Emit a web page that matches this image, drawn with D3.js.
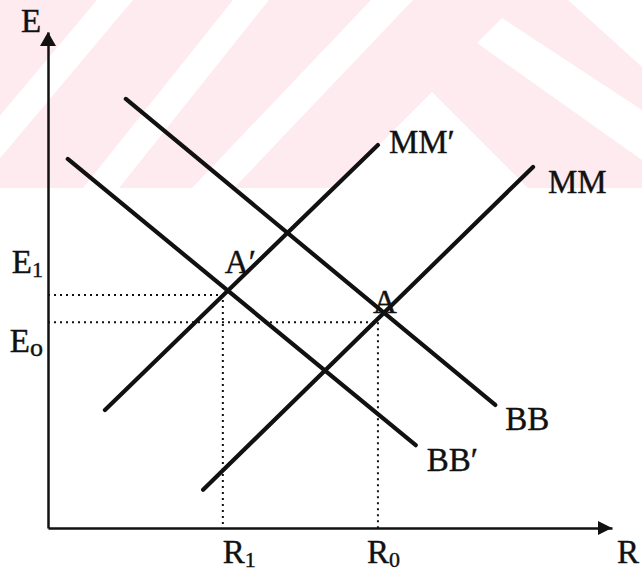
<!DOCTYPE html>
<html>
<head>
<meta charset="utf-8">
<script src="https://cdn.jsdelivr.net/npm/d3@7"></script>
<style>
  body { margin: 0; background: #fff; }
  svg { display: block; }
  text { font-family: 'Liberation Serif', 'Times New Roman', serif; fill: #111; stroke: #111; stroke-width: 0.4px; }
</style>
</head>
<body>
<div class="graph"><svg></svg></div>
<script>
// curves: each one is a straight segment, [R, E] at both ends
const curveNames = ['BB', 'BB′', 'MM′', 'MM']
const curveStarts = [[13.8, 86.5], [3.5, 74.4], [10.1, 23.8], [27.5, 7.7]]
const curveEnds = [[79.3, 24.8], [65.2, 16.7], [58.5, 77.2], [86.0, 72.8]]

// equilibrium points and their guide lines
const pointNames = ['A′', 'A']
const pointR = [31.0, 58.5]
const pointE = [47.0, 41.5]

// tick labels (letter + subscript)
const eTickLabels = [['E', '1'], ['E', 'o']]
const rTickLabels = [['R', '1'], ['R', '0']]
const axisTitles = ['E', 'R']

const width = 642
const height = 572

const svg = d3.select('.graph').select('svg')
  .attr('width', width)
  .attr('height', height)

const x = d3.scaleLinear().domain([0, 100]).range([48, 612])
const y = d3.scaleLinear().domain([0, 100]).range([528, 32])

/**
 * Draws the faint pink watermark band behind the figure.
 */
function drawWatermark () {
  const wm = svg.append('g').attr('class', 'watermark')
  wm.append('rect')
    .attr('x', 0).attr('y', 0)
    .attr('width', width).attr('height', 188)
    .attr('fill', '#fdebef')

  const white = [
    [[97, 0], [133, 0], [-25, 188], [-61, 188]],
    [[233, 0], [269, 0], [119, 188], [83, 188]],
    [[371, 0], [413, 0], [234, 188], [192, 188]],
    [[432, 92], [528, 188], [336, 188]],
    [[502, 18], [642, 110], [642, 160], [477, 43]],
    [[568, 0], [642, 0], [642, 67]]
  ]
  wm.selectAll('polygon')
    .data(white)
    .join('polygon')
    .attr('points', d => d.map(p => p.join(',')).join(' '))
    .attr('fill', '#fff')
}

/**
 * Draws both axes with arrow heads at their ends.
 */
function drawAxes () {
  const yAxis = svg.append('g')
    .attr('class', 'y axis')
    .attr('transform', 'translate(' + x(0) + ',0)')
    .call(d3.axisLeft(y).tickValues([]).tickSizeOuter(0))

  const xAxis = svg.append('g')
    .attr('class', 'x axis')
    .attr('transform', 'translate(0,' + y(0) + ')')
    .call(d3.axisBottom(x).tickValues([]).tickSizeOuter(0))

  svg.selectAll('.axis .domain')
    .attr('stroke', '#111')
    .attr('stroke-width', 2.5)

  // arrow heads
  svg.append('path')
    .attr('d', `M${x(0)},${y(100)} l-8,14 l16,0 Z`)
    .attr('fill', '#111')
  svg.append('path')
    .attr('d', `M${x(100)},${y(0)} l-14,-7 l0,14 Z`)
    .attr('fill', '#111')

  svg.append('text')
    .text(axisTitles[0])
    .attr('x', 21).attr('y', 32)
    .attr('font-size', 33)
  svg.append('text')
    .text(axisTitles[1])
    .attr('x', 617).attr('y', 563)
    .attr('font-size', 33)

  return [xAxis, yAxis]
}

/**
 * Writes a letter followed by a lowered, smaller subscript.
 */
function subLabel (sel, pair, subSize) {
  sel.append('tspan').text(pair[0]).attr('font-size', 33)
  sel.append('tspan').text(pair[1])
    .attr('font-size', subSize)
    .attr('dy', 4)
}

/**
 * Draws the dotted guide lines from each point down and across to the axes.
 */
function drawGuides () {
  const g = svg.append('g').attr('class', 'guides')
  pointR.forEach((r, i) => {
    g.append('path')
      .attr('d', `M${x(0)},${y(pointE[i])} H${x(r)} V${y(0)}`)
      .attr('fill', 'none')
      .attr('stroke', '#111')
      .attr('stroke-width', 2)
      .attr('stroke-dasharray', '2,4')
  })

  // E tick labels: upper one sits above its line, lower one below
  const eDy = [-22, 30]
  eTickLabels.forEach((lab, i) => {
    const t = g.append('text')
      .attr('x', 43)
      .attr('y', y(pointE[i]) + eDy[i])
      .attr('text-anchor', 'end')
    subLabel(t, lab, i === 0 ? 22 : 26)
  })

  const rDx = [0, -11]
  rTickLabels.forEach((lab, i) => {
    const t = g.append('text')
      .attr('x', x(pointR[i]) + rDx[i])
      .attr('y', 563)
    subLabel(t, lab, 22)
  })
}

/**
 * Draws the four schedules and their names.
 */
function drawCurves () {
  const g = svg.append('g').attr('class', 'curves')
  const line = d3.line().x(d => x(d[0])).y(d => y(d[1]))
  const labelOffset = [[10, 25], [11, 26], [11, 8], [15, 26]]

  curveNames.forEach((name, i) => {
    g.append('path')
      .attr('d', line([curveStarts[i], curveEnds[i]]))
      .attr('fill', 'none')
      .attr('stroke', '#111')
      .attr('stroke-width', 4.2)
      .attr('stroke-linecap', 'round')

    g.append('text')
      .text(name)
      .attr('x', x(curveEnds[i][0]) + labelOffset[i][0])
      .attr('y', y(curveEnds[i][1]) + labelOffset[i][1])
      .attr('font-size', 33)
  })

  const pointOffset = [[2, -22], [-5, -9]]
  pointNames.forEach((name, i) => {
    g.append('text')
      .text(name)
      .attr('x', x(pointR[i]) + pointOffset[i][0])
      .attr('y', y(pointE[i]) + pointOffset[i][1])
      .attr('font-size', 33)
  })
}

drawWatermark()
drawAxes()
drawGuides()
drawCurves()
</script>
</body>
</html>
